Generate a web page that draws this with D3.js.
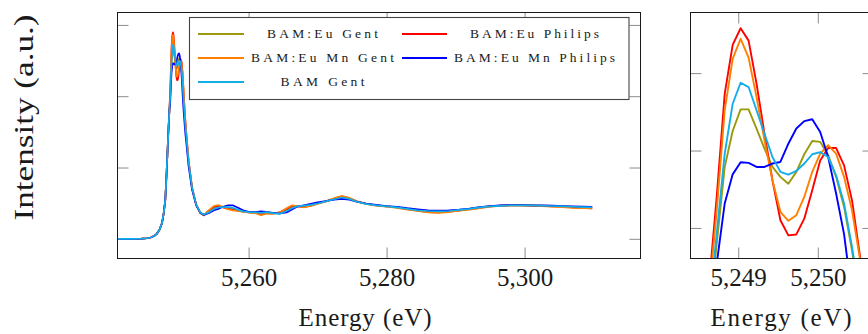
<!DOCTYPE html>
<html>
<head>
<meta charset="utf-8">
<script src="https://cdn.jsdelivr.net/npm/d3@7"></script>
<style>
  html, body { margin: 0; padding: 0; background: #fff; }
  svg { display: block; }
</style>
</head>
<body>
<svg id="chart" width="868" height="334"></svg>
<script>
// ---------------- DATA ----------------
const energy = [
  5241.0, 5243.0, 5244.5, 5245.3, 5245.8, 5246.3, 5246.7, 5247.1, 5247.45, 5247.7, 5247.93, 5248.13, 5248.33, 5248.43, 5248.53, 5248.63,
  5248.73, 5248.83, 5248.93, 5249.03, 5249.13, 5249.23, 5249.33, 5249.43, 5249.53, 5249.63, 5249.73, 5249.83, 5249.93, 5250.03, 5250.13, 5250.23, 5250.33, 5250.43, 5250.53, 5250.63,
  5250.73, 5250.85, 5251.0, 5251.3, 5251.8, 5252.4, 5253.0, 5253.5, 5254.2, 5255.0,
  5255.6, 5256.3, 5257.0, 5257.7, 5258.4, 5259.2, 5260.0, 5261.0, 5261.8, 5262.6,
  5263.5, 5264.5, 5265.5, 5266.3, 5267.0, 5268.0, 5269.0, 5270.0, 5271.2, 5272.4,
  5273.5, 5274.6, 5275.7, 5277.0, 5278.5, 5280.0, 5281.5, 5283.0, 5284.5, 5286.0,
  5287.5, 5289.0, 5290.5, 5292.0, 5293.5, 5295.0, 5296.5, 5298.0, 5299.5, 5301.0,
  5302.5, 5304.0, 5305.5, 5307.0, 5308.5, 5309.8
];

const bamEuGent = [
  0, 0, 0.003, 0.008, 0.018, 0.04, 0.07, 0.13, 0.22, 0.36, 0.55, 0.95, 1.41, 1.62, 1.82,
  1.95, 2.200, 2.447, 2.563, 2.633, 2.633, 2.571, 2.506, 2.447, 2.415, 2.393, 2.431, 2.488, 2.531, 2.528, 2.485, 2.415, 2.318, 2.178, 2.0, 1.85,
  1.71, 1.56, 1.40, 1.08, 0.72, 0.48, 0.37, 0.34, 0.375, 0.43,
  0.45, 0.445, 0.435, 0.425, 0.405, 0.385, 0.375, 0.37, 0.36, 0.37,
  0.36, 0.355, 0.40, 0.44, 0.46, 0.46, 0.47, 0.495, 0.525, 0.56,
  0.585, 0.565, 0.52, 0.49, 0.47, 0.455, 0.44, 0.42, 0.40, 0.385,
  0.38, 0.385, 0.40, 0.42, 0.44, 0.455, 0.465, 0.47, 0.472, 0.47,
  0.466, 0.462, 0.456, 0.45, 0.445, 0.44
];

const bamEuPhilips = [
  0, 0, 0.003, 0.008, 0.018, 0.04, 0.07, 0.13, 0.22, 0.36, 0.55, 0.95, 1.41, 1.62, 1.82,
  2.06, 2.352, 2.683, 2.841, 2.895, 2.855, 2.716, 2.554, 2.404, 2.275, 2.226, 2.229, 2.280, 2.372, 2.468, 2.508, 2.508, 2.452, 2.339, 2.16, 1.98,
  1.82, 1.64, 1.45, 1.10, 0.72, 0.48, 0.36, 0.33, 0.39, 0.45,
  0.46, 0.44, 0.42, 0.41, 0.395, 0.38, 0.37, 0.365, 0.34, 0.36,
  0.355, 0.37, 0.42, 0.46, 0.455, 0.445, 0.465, 0.495, 0.525, 0.565,
  0.595, 0.57, 0.525, 0.495, 0.47, 0.455, 0.44, 0.415, 0.395, 0.375,
  0.37, 0.38, 0.40, 0.415, 0.435, 0.455, 0.465, 0.47, 0.47, 0.465,
  0.46, 0.455, 0.45, 0.44, 0.432, 0.428
];

const bamEuMnGent = [
  0, 0, 0.003, 0.008, 0.018, 0.04, 0.07, 0.13, 0.22, 0.36, 0.55, 0.95, 1.41, 1.62, 1.82,
  2.03, 2.307, 2.630, 2.796, 2.861, 2.800, 2.673, 2.533, 2.404, 2.302, 2.273, 2.291, 2.350, 2.431, 2.490, 2.517, 2.490, 2.415, 2.307, 2.15, 1.97,
  1.80, 1.62, 1.44, 1.10, 0.72, 0.48, 0.36, 0.33, 0.40, 0.46,
  0.475, 0.45, 0.415, 0.40, 0.39, 0.38, 0.37, 0.36, 0.33, 0.355,
  0.35, 0.37, 0.43, 0.47, 0.46, 0.44, 0.46, 0.49, 0.525, 0.57,
  0.60, 0.575, 0.525, 0.49, 0.465, 0.45, 0.435, 0.41, 0.39, 0.37,
  0.365, 0.375, 0.395, 0.41, 0.43, 0.45, 0.46, 0.468, 0.47, 0.465,
  0.458, 0.45, 0.445, 0.435, 0.43, 0.425
];

const bamEuMnPhilips = [
  0, 0, 0.003, 0.008, 0.018, 0.04, 0.07, 0.13, 0.22, 0.36, 0.55, 0.95, 1.41, 1.62, 1.82,
  1.88, 2.135, 2.329, 2.423, 2.462, 2.460, 2.447, 2.447, 2.458, 2.463, 2.522, 2.571, 2.595, 2.601, 2.560, 2.479, 2.361, 2.23, 2.03, 1.87, 1.73,
  1.60, 1.46, 1.32, 1.02, 0.69, 0.47, 0.365, 0.335, 0.36, 0.40,
  0.42, 0.45, 0.47, 0.47, 0.44, 0.40, 0.38, 0.375, 0.385, 0.38,
  0.365, 0.355, 0.37, 0.41, 0.45, 0.47, 0.49, 0.51, 0.53, 0.55,
  0.56, 0.55, 0.52, 0.495, 0.475, 0.46, 0.45, 0.43, 0.415, 0.40,
  0.395, 0.40, 0.41, 0.425, 0.445, 0.46, 0.468, 0.472, 0.473, 0.47,
  0.468, 0.465, 0.46, 0.455, 0.452, 0.45
];

const bamGent = [
  0, 0, 0.003, 0.008, 0.018, 0.04, 0.07, 0.13, 0.22, 0.36, 0.55, 0.95, 1.41, 1.62, 1.82,
  1.98, 2.232, 2.490, 2.651, 2.719, 2.705, 2.630, 2.554, 2.479, 2.431, 2.422, 2.434, 2.458, 2.488, 2.495, 2.479, 2.420, 2.329, 2.189, 2.02, 1.87,
  1.73, 1.57, 1.41, 1.08, 0.72, 0.48, 0.37, 0.34, 0.37, 0.42,
  0.44, 0.445, 0.445, 0.435, 0.41, 0.385, 0.375, 0.37, 0.365, 0.375,
  0.36, 0.35, 0.39, 0.43, 0.455, 0.465, 0.475, 0.495, 0.525, 0.555,
  0.58, 0.56, 0.52, 0.49, 0.47, 0.455, 0.44, 0.42, 0.40, 0.39,
  0.385, 0.39, 0.405, 0.42, 0.44, 0.455, 0.462, 0.468, 0.47, 0.468,
  0.464, 0.46, 0.455, 0.45, 0.445, 0.44
];

const seriesNames  = ["BAM:Eu Gent", "BAM:Eu Philips", "BAM:Eu Mn Gent", "BAM:Eu Mn Philips", "BAM Gent"];
const seriesValues = [bamEuGent, bamEuPhilips, bamEuMnGent, bamEuMnPhilips, bamGent];
const seriesColors = ["#9a9a0c", "#ff0000", "#ff8000", "#0000ff", "#12aee8"];

const mainXTicks = [5260, 5280, 5300];
const mainYTicks = [0, 1, 2, 3];
const zoomXTicks = [5249, 5250];
const zoomYTicks = [2.25, 2.5, 2.75];
const xTitle = "Energy (eV)";
const yTitle = "Intensity (a.u.)";

// ---------------- DRAW ----------------
const FONT = '"Liberation Serif", "Times New Roman", serif';
const svg = d3.select("#chart");
const series = seriesNames.map((name, i) => ({
  name, color: seriesColors[i],
  points: energy.map((e, j) => [e, seriesValues[i][j]])
}));

function panel(opts) {
  const { x, y, xTicks, yTicks, clipId, lineWidth } = opts;
  const [x0, x1] = x.range();
  const [y1, y0] = y.range();
  const g = svg.append("g");

  g.append("clipPath").attr("id", clipId)
    .append("rect").attr("x", x0).attr("y", y0).attr("width", x1 - x0).attr("height", y1 - y0);

  const tickLen = 11;
  const fmt = d3.format(",");
  const bottom = g.append("g").attr("transform", `translate(0,${y1})`)
    .call(d3.axisBottom(x).tickValues(xTicks).tickSizeInner(-tickLen).tickSizeOuter(0).tickPadding(10).tickFormat(fmt));
  const top = g.append("g").attr("transform", `translate(0,${y0})`)
    .call(d3.axisTop(x).tickValues(xTicks).tickSizeInner(-tickLen).tickSizeOuter(0).tickFormat(""));
  const left = g.append("g").attr("transform", `translate(${x0},0)`)
    .call(d3.axisLeft(y).tickValues(yTicks).tickSizeInner(-tickLen).tickSizeOuter(0).tickFormat(""));
  const right = g.append("g").attr("transform", `translate(${x1},0)`)
    .call(d3.axisRight(y).tickValues(yTicks).tickSizeInner(-tickLen).tickSizeOuter(0).tickFormat(""));
  [bottom, top, left, right].forEach(a => {
    a.select(".domain").remove();
    a.selectAll(".tick line").attr("stroke", "#8c8c8c").attr("stroke-width", 1);
  });
  bottom.selectAll(".tick text")
    .style("font-family", FONT)
    .attr("font-size", 25).attr("fill", "#1a1a1a");

  const line = d3.line().x(d => x(d[0])).y(d => y(d[1]));
  g.append("g").attr("clip-path", `url(#${clipId})`)
    .selectAll("path").data(series).join("path")
    .attr("d", d => line(d.points))
    .attr("fill", "none")
    .attr("stroke", d => d.color)
    .attr("stroke-width", lineWidth)
    .attr("stroke-linejoin", "round");

  g.append("rect").attr("x", x0).attr("y", y0).attr("width", x1 - x0).attr("height", y1 - y0)
    .attr("fill", "none").attr("stroke", "#1a1a1a").attr("stroke-width", 1);
  return g;
}

const xMain = d3.scaleLinear().domain([5241.0, 5316.8]).range([117.5, 640.5]);
const yMain = d3.scaleLinear().domain([-0.276, 3.174]).range([258.5, 12.5]);
const xZoom = d3.scaleLinear().domain([5248.4, 5250.7]).range([690.5, 873.5]);
const yZoom = d3.scaleLinear().domain([2.1513, 2.9458]).range([258.5, 12.5]);

const gMain = panel({ x: xMain, y: yMain, xTicks: mainXTicks, yTicks: mainYTicks, clipId: "clipMain", lineWidth: 1.7 });
panel({ x: xZoom, y: yZoom, xTicks: zoomXTicks, yTicks: zoomYTicks, clipId: "clipZoom", lineWidth: 1.9 });

// legend (main panel, upper right)
const leg = gMain.append("g");
leg.append("rect").attr("x", 189.5).attr("y", 17.5).attr("width", 439.5).attr("height", 82)
  .attr("fill", "#fff").attr("stroke", "#444").attr("stroke-width", 1.1);
const legCols = [{ lx0: 198, lx1: 244, tx: 322.5 }, { lx0: 402, lx1: 447, tx: 534.5 }];
const legRows = [34, 58, 82];
const legWidths = { "BAM:Eu Gent": 111, "BAM:Eu Philips": 129, "BAM:Eu Mn Gent": 143, "BAM:Eu Mn Philips": 161, "BAM Gent": 84 };
series.forEach((s, i) => {
  const c = legCols[i % 2], r = legRows[Math.floor(i / 2)];
  leg.append("line").attr("x1", c.lx0).attr("x2", c.lx1).attr("y1", r).attr("y2", r)
    .attr("stroke", s.color).attr("stroke-width", 1.9);
  leg.append("text").attr("x", c.tx).attr("y", r + 4)
    .attr("text-anchor", "middle").attr("font-size", 13.5).style("font-family", FONT).attr("fill", "#1a1a1a")
    .attr("textLength", legWidths[s.name]).attr("lengthAdjust", "spacing")
    .text(s.name);
});

// axis titles
function title(x, y, rot, size, len, adjust, txt) {
  svg.append("text").attr("transform", `translate(${x},${y}) rotate(${rot})`).attr("text-anchor", "middle")
    .style("font-family", FONT).attr("fill", "#1a1a1a")
    .attr("font-size", size).attr("textLength", len).attr("lengthAdjust", adjust).text(txt);
}
title(365, 326, 0, 25, 133, "spacing", xTitle);
title(781, 326, 0, 25, 141, "spacing", xTitle);
title(33, 117.5, -90, 28, 206, "spacingAndGlyphs", yTitle);
</script>
</body>
</html>
